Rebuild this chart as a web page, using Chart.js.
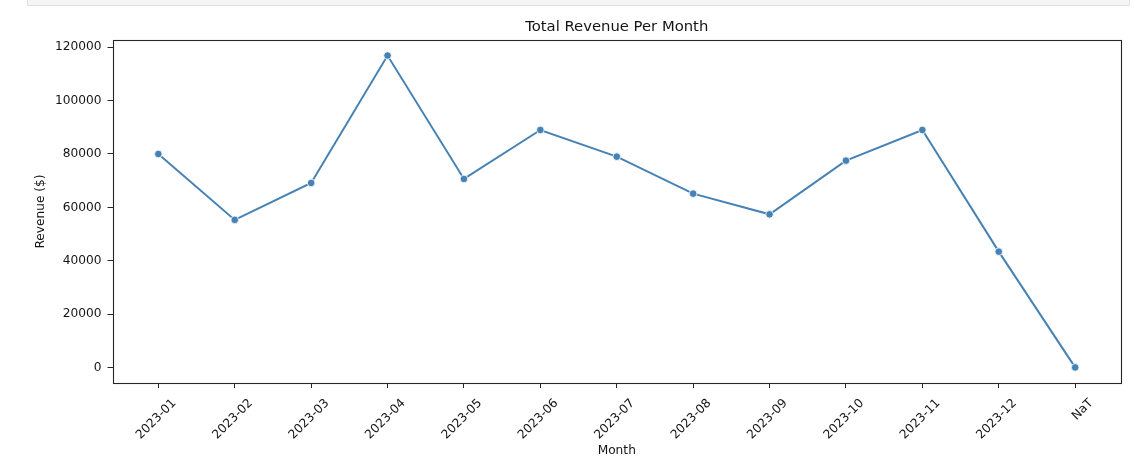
<!DOCTYPE html>
<html>
<head>
<meta charset="utf-8">
<script src="https://cdn.jsdelivr.net/npm/chart.js@4/dist/chart.umd.min.js"></script>
<style>
  html, body { margin: 0; padding: 0; background: #ffffff; }
  #wrap { position: relative; width: 1134px; height: 463px; overflow: hidden; }
  #topbar { position: absolute; left: 27px; top: -1px; width: 1101px; height: 6px;
            background: #f5f5f5; border: 1px solid #e0e0e0; border-top: none; }
  canvas { position: absolute; left: 0; top: 0; }
</style>
</head>
<body>
<div id="wrap">
  <div id="topbar"></div>
  <canvas id="c" width="1134" height="463"></canvas>
</div>
<script>
const months = ["2023-01","2023-02","2023-03","2023-04","2023-05","2023-06",
                "2023-07","2023-08","2023-09","2023-10","2023-11","2023-12","NaT"];
const revenue = [80000, 55300, 69150, 116900, 70650, 89000,
                 79000, 65140, 57380, 77510, 89000, 43390, 0];
const yTicks = [0, 20000, 40000, 60000, 80000, 100000, 120000];

const lineColor = "#4682b4";
const textColor = "#141414";
const fontFamily = "'DejaVu Sans', sans-serif";

const framePlugin = {
  id: "frame",
  beforeDatasetsDraw(chart) {
    const a = chart.chartArea, ctx = chart.ctx;
    ctx.save();
    ctx.strokeStyle = "#262626";
    ctx.lineWidth = 1.1;
    ctx.strokeRect(Math.round(a.left) + 0.5, Math.round(a.top) + 0.5,
                   Math.round(a.right - a.left) - 1, Math.round(a.bottom - a.top));
    ctx.restore();
  }
};

const points = revenue.map((v, i) => ({ x: i, y: v }));
const yMaxData = Math.max(...revenue), yMinData = Math.min(...revenue);
const yMargin = (yMaxData - yMinData) * 0.05;
const xMargin = (months.length - 1) * 0.05;

new Chart(document.getElementById("c"), {
  type: "line",
  data: {
    datasets: [{
      data: points,
      borderColor: lineColor,
      borderWidth: 2,
      tension: 0,
      pointRadius: 3.8,
      pointHoverRadius: 3.8,
      pointBackgroundColor: lineColor,
      pointBorderColor: "#ffffff",
      pointBorderWidth: 0.8,
      fill: false
    }]
  },
  options: {
    responsive: false,
    devicePixelRatio: 1,
    animation: false,
    events: [],
    layout: { padding: { left: 0, right: 13, top: 0, bottom: 0 } },
    plugins: {
      legend: { display: false },
      tooltip: { enabled: false },
      title: {
        display: true,
        text: "Total Revenue Per Month",
        fullSize: false,
        color: textColor,
        font: { family: fontFamily, size: 14.8, weight: "normal" },
        padding: { top: 18.2, bottom: 4.0 }
      }
    },
    scales: {
      x: {
        type: "linear",
        min: -xMargin,
        max: months.length - 1 + xMargin,
        afterBuildTicks(scale) { scale.ticks = months.map((m, i) => ({ value: i })); },
        afterFit(scale) { scale.height = 80; },
        grid: { drawOnChartArea: false, drawTicks: true, tickLength: 5, tickColor: "#262626", tickWidth: 1 },
        border: { display: false },
        ticks: {
          autoSkip: false,
          minRotation: 45,
          maxRotation: 45,
          padding: 8,
          labelOffset: 16,
          color: textColor,
          font: { family: fontFamily, size: 12.2 },
          callback: (v) => months[v]
        },
        title: {
          display: true,
          text: "Month",
          color: textColor,
          font: { family: fontFamily, size: 12.2 },
          padding: { top: 0, bottom: 5.2 }
        }
      },
      y: {
        type: "linear",
        min: yMinData - yMargin,
        max: yMaxData + yMargin,
        afterBuildTicks(scale) { scale.ticks = yTicks.map(v => ({ value: v })); },
        afterFit(scale) { scale.width = 112.5; },
        grid: { drawOnChartArea: false, drawTicks: true, tickLength: 5, tickColor: "#262626", tickWidth: 1 },
        border: { display: false },
        ticks: {
          padding: 6,
          color: textColor,
          font: { family: fontFamily, size: 12.2 },
          callback: (v) => String(v)
        },
        title: {
          display: true,
          text: "Revenue ($)",
          color: textColor,
          font: { family: fontFamily, size: 12.2 },
          padding: { top: 33.7, bottom: 0 }
        }
      }
    }
  },
  plugins: [framePlugin]
});
</script>
</body>
</html>
